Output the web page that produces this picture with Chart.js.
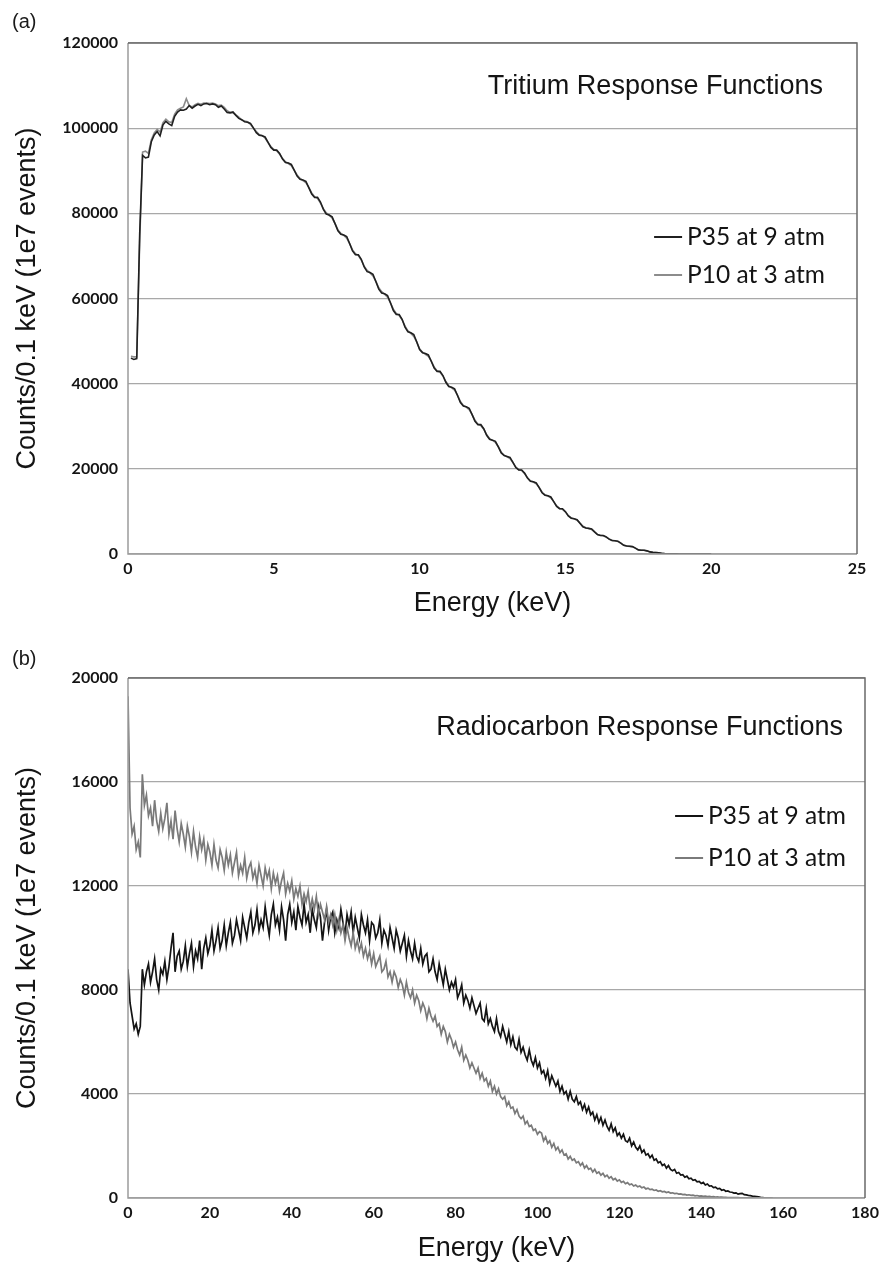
<!DOCTYPE html>
<html>
<head>
<meta charset="utf-8">
<script src="https://cdn.jsdelivr.net/npm/chart.js@4.4.1/dist/chart.umd.min.js"></script>
<style>
  html, body { margin: 0; padding: 0; background: #fff; }
  #wrap { position: relative; width: 880px; height: 1265px; }
  .panel { position: absolute; left: 0; width: 880px; }
  .tag { position: absolute; left: 12px; font: 20px "Liberation Sans", Arial, sans-serif; color: #1a1a1a; }
</style>
</head>
<body>
<div id="wrap">
  <div class="panel" style="top:0;height:632px"><canvas id="chart-tritium" width="880" height="632"></canvas></div>
  <div class="panel" style="top:632px;height:633px"><canvas id="chart-carbon" width="880" height="633"></canvas></div>
  <div class="tag" style="top:10px">(a)</div>
  <div class="tag" style="top:647px">(b)</div>
</div>
<script>
// ---- (a) tritium, 0.1 keV bins starting at 0.1 keV ----
const tritiumBin = 0.1;
const tritiumP35 = [
  46000,45700,45900,75000,93600,93000,93200,96800,98400,99200,
  98200,100800,101600,101000,100600,102800,103800,104300,104200,104500,
  105300,104700,105200,105600,105300,105700,105800,105500,105700,105500,
  104900,105200,104500,103700,103600,103800,103000,102300,102000,101490,
  101370,101120,100060,98950,98350,98210,97930,96740,95480,94840,
  94840,94050,92750,91940,91830,91480,90150,88740,87990,87850,
  87490,86050,84520,83710,83750,82660,80940,79820,79590,79160,
  77570,75880,75070,74900,74560,72910,71170,70260,70280,69200,
  67400,66300,66100,65700,64000,62200,61300,61100,60700,59000,
  57180,56250,56250,55130,53290,52170,51970,51560,49830,47990,
  47280,47100,46750,45260,43670,42880,42880,41910,40330,39340,
  39160,38790,37230,35570,34760,34590,34230,32740,31150,30370,
  30370,29420,27880,26960,26740,26460,25140,23740,23110,22910,
  22670,21520,20300,19730,19730,19000,17820,17090,16960,16690,
  15570,14380,13800,13660,13390,12310,11170,10640,10620,9940,
  8940,8410,8290,8070,7200,6400,6100,6020,5860,5180,
  4560,4350,4350,4020,3480,3180,3130,3010,2540,2030,
  1870,1830,1740,1370,970,890,890,740,490,380,
  340,270,180,110,60,40,30,20,10,0,
  0,0,0,0,0,0,0,0,0,0
];
const tritiumP10 = [
  46400,46300,46300,73000,94400,94600,94100,97300,98900,99700,
  99100,101300,102100,101500,101300,103300,104300,104700,105000,106900,
  105300,105000,105500,105800,105600,105900,105900,105800,105900,105700,
  105300,105400,104900,104100,103700,103600,103100,102600,101900,101700,
  101500,100900,100000,99200,98500,98300,97700,96600,95700,95000,
  94700,93900,92900,92100,91700,91200,90100,89000,88200,87700,
  87200,86100,84800,83900,83500,82400,81100,80100,79500,78900,
  77600,76100,75300,74800,74200,72900,71400,70500,70100,69000,
  67600,66600,66000,65300,64000,62500,61600,61000,60300,59000,
  57500,56500,56000,55000,53500,52400,51800,51100,49800,48200,
  47400,46900,46400,45300,43900,43000,42700,41800,40500,39500,
  39000,38500,37300,35800,34900,34500,33900,32800,31400,30500,
  30200,29300,28000,27100,26700,26200,25200,23900,23200,22800,
  22400,21500,20400,19800,19600,18900,17900,17200,16900,16500,
  15600,14500,13900,13600,13200,12300,11300,10700,10500,9900,
  9000,8500,8250,7950,7250,6500,6150,5980,5750,5200,
  4600,4400,4300,3950,3500,3200,3100,2950,2550,2080,
  1900,1800,1700,1380,1000,900,870,720,500,400,
  350,270,190,120,70,45,30,20,10,0,
  0,0,0,0,0,0,0,0,0,0
];
const tritiumXTicks = [0, 5, 10, 15, 20, 25];
const tritiumYTicks = [0, 20000, 40000, 60000, 80000, 100000, 120000];

// ---- (b) radiocarbon, 0.5 keV steps starting at 0 keV ----
const carbonBin = 0.5;
const carbonP35 = [
  8800,7500,7000,6500,6700,6300,6600,8800,8200,8700,
  9000,8300,8700,9200,8400,8000,8800,8600,9100,8400,
  8900,9600,10200,8700,9300,9500,8800,9100,9700,8900,
  9400,9800,8900,9500,9200,9900,8800,9600,10000,9400,
  9700,10300,9500,9900,10400,9600,9900,10500,9700,10200,
  10600,9800,10100,10700,10300,9900,10800,10400,10000,10600,
  11000,10200,10500,11100,10300,10700,10400,11200,10600,10100,
  10900,11300,10500,10800,10300,11200,10700,9900,10900,11300,
  10600,11000,10300,11200,10800,10500,11300,10600,10900,10200,
  11100,10700,10400,11200,10800,9900,10600,11100,10300,10800,
  11000,10200,10700,10400,11100,10600,10100,10900,10500,11000,
  10200,10800,10400,10000,10900,10500,10200,10700,9900,10600,
  10500,10000,10200,10700,9800,10300,10100,9700,10400,10000,
  9600,10300,10000,9500,9800,10100,9300,9900,9500,9200,
  9800,9300,9100,9600,9000,9300,9400,8700,8800,9200,
  8700,8400,9000,8600,8200,8800,8400,8000,8300,8100,
  8400,7700,7900,8200,7500,7800,7600,7300,7700,7400,
  7100,7300,7500,6900,6800,7300,6700,6900,6600,6400,
  6900,6400,6200,6600,6300,6000,6400,5900,6200,5800,
  5700,6100,5600,5800,5500,5300,5700,5300,5100,5400,
  5000,5200,4800,4900,4600,4900,4400,4700,4500,4300,
  4500,4100,4300,4000,4100,3800,4100,3800,3700,3900,
  3600,3700,3400,3600,3300,3500,3200,3300,3000,3200,
  2900,3100,2800,3000,2750,2600,2850,2550,2700,2400,
  2500,2300,2450,2200,2150,2300,2000,2150,1950,1850,
  2000,1750,1850,1650,1700,1550,1650,1450,1500,1350,
  1400,1250,1300,1150,1250,1100,1050,1100,950,980,
  880,900,800,840,740,760,680,700,620,640,
  560,600,500,540,460,470,400,420,350,370,
  300,320,260,270,230,220,190,200,150,170,
  180,130,120,100,90,70,60,50,40,25,
  20,10,10,0,0
];
const carbonP10 = [
  19300,15000,14000,14300,13400,13700,13100,16300,15100,15500,
  14700,15000,14300,15300,14500,14100,14800,14200,14600,15200,
  14000,14500,13800,14900,14200,13700,14400,14000,13500,14300,
  13900,13300,14100,13500,13100,13900,13400,13800,13000,13600,
  13300,12800,13600,13000,12700,13400,13100,12600,13300,12800,
  13200,12500,12900,13300,12400,12800,12500,13100,12300,12700,
  12900,12300,12600,12100,12800,12400,12000,12700,12300,12600,
  11900,12500,12100,12400,11800,12200,12500,11700,12100,11800,
  12200,11500,11900,11600,12000,11300,11700,11400,11800,11100,
  11500,11100,11600,10900,11300,11000,10700,11200,10600,10900,
  10500,10900,10300,10700,10200,10500,9900,10400,10000,9700,
  10200,9600,9900,9500,9800,9300,9600,9200,9500,9000,
  9400,8900,9100,9300,8700,8800,9100,8500,8700,8300,
  8700,8500,8100,8400,8200,7800,8300,7900,7700,8000,
  7500,7800,7600,7200,7500,7300,6900,7300,7000,6800,
  7000,6600,6700,6300,6600,6400,6000,6300,6100,5800,
  6000,5700,5500,5800,5300,5500,5300,5000,5200,5000,
  4800,5000,4600,4800,4500,4600,4300,4500,4100,4300,
  4000,4200,3900,3800,3900,3550,3700,3450,3500,3250,
  3400,3150,3050,3150,2850,2950,2750,2800,2600,2650,
  2450,2550,2500,2200,2350,2100,2200,1950,2100,1850,
  1950,1750,1850,1650,1700,1500,1600,1450,1500,1350,
  1400,1250,1350,1150,1250,1100,1150,1000,1100,950,
  1000,880,950,820,880,760,820,700,750,650,
  700,600,640,550,590,510,540,460,500,430,
  460,390,420,350,380,320,340,290,310,260,
  280,240,250,210,230,190,200,170,180,150,
  160,130,140,115,125,100,110,85,95,75,
  80,65,70,55,60,45,50,38,40,30,
  32,25,26,20,20,15,15,12,12,9,
  9,7,7,5,5,4,4,3,3,2,
  2,2,1,1,1,0
];
const carbonXTicks = [0, 20, 40, 60, 80, 100, 120, 140, 160, 180];
const carbonYTicks = [0, 4000, 8000, 12000, 16000, 20000];

const seriesLabels = ['P35 at 9 atm', 'P10 at 3 atm'];

// pair each bin value with its energy
function toPoints(values, bin, start) {
  return values.map((v, i) => ({ x: +(start + i * bin).toFixed(2), y: v }));
}

// frame, in-plot title and the little line legend
const frameAndLabels = {
  id: 'frameAndLabels',
  afterDatasetsDraw(chart, args, opts) {
    const { ctx, chartArea: a } = chart;
    ctx.save();
    ctx.lineWidth = 1.5;
    ctx.strokeStyle = '#9c9c9c';
    ctx.beginPath();
    ctx.moveTo(a.left, a.top); ctx.lineTo(a.left, a.bottom); ctx.lineTo(a.right, a.bottom);
    ctx.stroke();
    ctx.strokeStyle = '#6a6a6a';
    ctx.beginPath();
    ctx.moveTo(a.left, a.top); ctx.lineTo(a.right, a.top); ctx.lineTo(a.right, a.bottom);
    ctx.stroke();

    ctx.fillStyle = '#141414';
    ctx.textAlign = 'right';
    ctx.textBaseline = 'middle';
    ctx.font = '27px "Liberation Sans", Arial, sans-serif';
    ctx.fillText(opts.text, a.right - opts.titleInset, opts.titleY);

    ctx.font = '24.5px Lato, sans-serif';
    chart.data.datasets.forEach((ds, i) => {
      const y = opts.legendY[i];
      const xEnd = a.right - opts.legendInset;
      const w = ctx.measureText(ds.label).width;
      ctx.fillText(ds.label, xEnd, y);
      ctx.strokeStyle = ds.borderColor;
      ctx.lineWidth = 2;
      ctx.beginPath();
      ctx.moveTo(xEnd - w - 33, y);
      ctx.lineTo(xEnd - w - 5, y);
      ctx.stroke();
    });
    ctx.restore();
  }
};

function makeOptions(cfg) {
  return {
    responsive: false,
    animation: false,
    devicePixelRatio: 1,
    layout: { padding: { left: 0, right: cfg.padRight, top: cfg.padTop, bottom: 0 } },
    plugins: {
      legend: { display: false },
      tooltip: { enabled: false },
      frameAndLabels: cfg.labels
    },
    elements: { point: { radius: 0 }, line: { tension: 0 } },
    scales: {
      x: {
        type: 'linear',
        min: cfg.xTicks[0],
        max: cfg.xTicks[cfg.xTicks.length - 1],
        afterFit(scale) {
          scale.height = cfg.xAxisHeight;
          scale.paddingLeft = 0;
          scale.paddingRight = 0;
        },
        afterBuildTicks(scale) { scale.ticks = cfg.xTicks.map(v => ({ value: v })); },
        grid: { display: false, drawTicks: false },
        border: { display: false },
        ticks: {
          maxRotation: 0,
          autoSkip: false,
          padding: 5,
          color: '#141414',
          font: { family: 'Lato', weight: 'bold', size: 16 }
        },
        title: {
          display: true,
          text: 'Energy (keV)',
          color: '#141414',
          font: { family: 'Liberation Sans', size: 27 },
          padding: { top: 0, bottom: cfg.xTitlePad }
        }
      },
      y: {
        min: cfg.yTicks[0],
        max: cfg.yTicks[cfg.yTicks.length - 1],
        afterFit(scale) { scale.width = 128; },
        afterBuildTicks(scale) { scale.ticks = cfg.yTicks.map(v => ({ value: v })); },
        grid: { color: '#a8a8a8', lineWidth: 1.3, drawTicks: false },
        border: { display: false },
        ticks: {
          padding: 10,
          color: '#141414',
          font: { family: 'Lato', weight: 'bold', size: 16 },
          callback: v => String(v)
        },
        title: {
          display: true,
          text: 'Counts/0.1 keV (1e7 events)',
          color: '#141414',
          font: { family: 'Liberation Sans', size: 27 },
          padding: { top: 11, bottom: 0 }
        }
      }
    }
  };
}

new Chart(document.getElementById('chart-tritium'), {
  type: 'line',
  data: {
    datasets: [
      { label: seriesLabels[0], data: toPoints(tritiumP35, tritiumBin, 0.1), borderColor: '#202020', borderWidth: 1.6 },
      { label: seriesLabels[1], data: toPoints(tritiumP10, tritiumBin, 0.1), borderColor: '#8c8c8c', borderWidth: 1.6 }
    ]
  },
  options: makeOptions({
    xTicks: tritiumXTicks, yTicks: tritiumYTicks,
    padRight: 23, padTop: 43, xAxisHeight: 78, xTitlePad: 12,
    labels: { text: 'Tritium Response Functions', titleInset: 34, titleY: 87, legendInset: 32, legendY: [237, 275] }
  }),
  plugins: [frameAndLabels]
});

new Chart(document.getElementById('chart-carbon'), {
  type: 'line',
  data: {
    datasets: [
      { label: seriesLabels[0], data: toPoints(carbonP35, carbonBin, 0), borderColor: '#141414', borderWidth: 1.7 },
      { label: seriesLabels[1], data: toPoints(carbonP10, carbonBin, 0), borderColor: '#7a7a7a', borderWidth: 1.7, order: -1 }
    ]
  },
  options: makeOptions({
    xTicks: carbonXTicks, yTicks: carbonYTicks,
    padRight: 15, padTop: 46, xAxisHeight: 67, xTitlePad: 0,
    labels: { text: 'Radiocarbon Response Functions', titleInset: 22, titleY: 96, legendInset: 19, legendY: [184, 226] }
  }),
  plugins: [frameAndLabels]
});
</script>
</body>
</html>
